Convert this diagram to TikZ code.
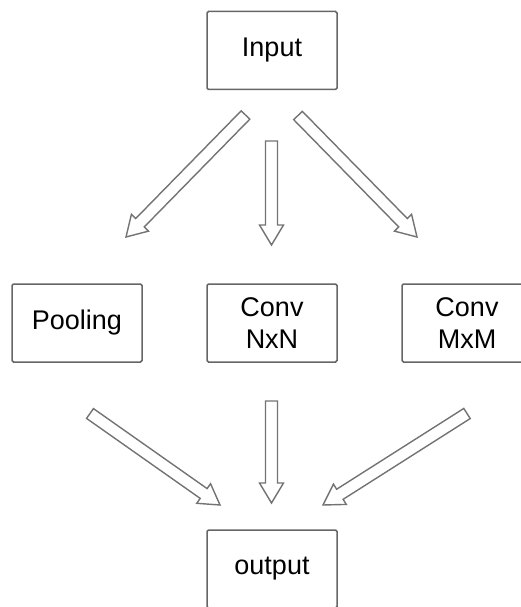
\documentclass[tikz,border=0pt]{standalone}
\usepackage{fontspec}
\setmainfont{Liberation Sans}
\usetikzlibrary{calc}

\tikzset{
  box/.style={draw=black!60, line width=1.5pt, rounded corners=1.5pt,
    minimum width=130pt, minimum height=78pt, inner sep=0pt, align=center,
    font=\fontsize{27}{32}\selectfont},
  hollow/.style={draw=black!55, line width=1.4pt, fill=white, line join=miter}
}

% hollow block arrow from #1 to #2
\newcommand{\hollowarrow}[2]{%
  \coordinate (hb) at ($(#2)!20pt!(#1)$);
  \draw[hollow] ($(#1)!6pt!90:(#2)$) -- ($(hb)!6pt!90:(#2)$) -- ($(hb)!12pt!90:(#2)$)
    -- (#2) -- ($(hb)!12pt!-90:(#2)$) -- ($(hb)!6pt!-90:(#2)$) -- ($(#1)!6pt!-90:(#2)$) -- cycle;
}

\begin{document}
\begin{tikzpicture}[x=1pt, y=-1pt]
    \useasboundingbox (0,0) rectangle (521,607);
    \clip (0,0) rectangle (521,607);

    % Boxes
    \node[box] (input) at (272,50.5) {Input};
    \node[box] (pool) at (77,323) {Pooling};
    \node[box] (nxn) at (272,323) {Conv\\NxN};
    \node[box] (mxm) at (467,323) {Conv\\MxM};
    \node[box] (output) at (272,569) {output};

    % Arrow ends, top row
    \coordinate (in-pool-s) at (245.5,115);
    \coordinate (in-pool-e) at (126,237);
    \coordinate (in-nxn-s) at (271.5,141);
    \coordinate (in-nxn-e) at (271.5,245);
    \coordinate (in-mxm-s) at (298,115.5);
    \coordinate (in-mxm-e) at (417,237);

    % Arrow ends, bottom row
    \coordinate (pool-out-s) at (90,413.5);
    \coordinate (pool-out-e) at (220,505);
    \coordinate (nxn-out-s) at (271.5,401);
    \coordinate (nxn-out-e) at (271.5,503);
    \coordinate (mxm-out-s) at (467,413.5);
    \coordinate (mxm-out-e) at (323,505);

    % Arrows
    \hollowarrow{in-pool-s}{in-pool-e}
    \hollowarrow{in-nxn-s}{in-nxn-e}
    \hollowarrow{in-mxm-s}{in-mxm-e}
    \hollowarrow{pool-out-s}{pool-out-e}
    \hollowarrow{nxn-out-s}{nxn-out-e}
    \hollowarrow{mxm-out-s}{mxm-out-e}

\end{tikzpicture}
\end{document}
